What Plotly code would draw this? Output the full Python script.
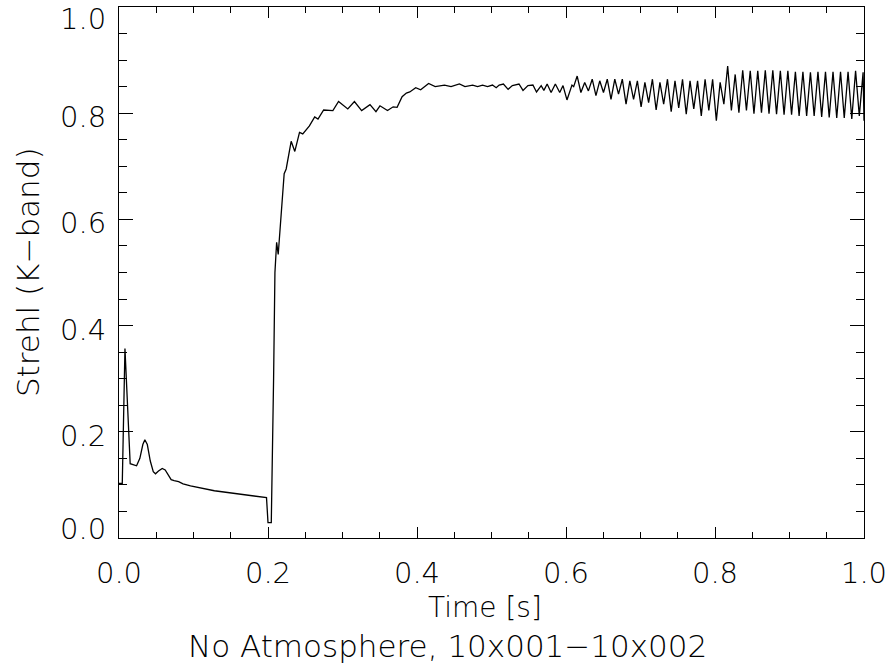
import plotly.graph_objects as go

# ---- data (time in s, Strehl ratio) ----
t_transient = [0.0000, 0.0044, 0.0080, 0.0150, 0.0236, 0.0280, 0.0320, 0.0347, 0.0380,
               0.0420, 0.0460, 0.0490, 0.0530, 0.0580, 0.0620, 0.0660, 0.0700, 0.0740,
               0.0800, 0.0860, 0.0960, 0.1280, 0.1640, 0.1980, 0.2000, 0.2044]
s_transient = [0.103, 0.103, 0.357, 0.140, 0.136, 0.150, 0.176, 0.185, 0.176,
               0.145, 0.125, 0.121, 0.126, 0.131, 0.128, 0.118, 0.110, 0.108,
               0.106, 0.102, 0.098, 0.089, 0.082, 0.076, 0.029, 0.029]

t_rise = [0.2075, 0.2093, 0.2116, 0.2137, 0.2217, 0.2244, 0.2311, 0.2360, 0.2423,
          0.2467, 0.2556, 0.2627, 0.2671, 0.2747, 0.2871, 0.2947, 0.3071, 0.3160,
          0.3257, 0.3369, 0.3449, 0.3503, 0.3604, 0.3680, 0.3733, 0.3800, 0.3857,
          0.3903, 0.3983, 0.4049, 0.4156, 0.4244, 0.4369, 0.4457]
s_rise = [0.300, 0.500, 0.557, 0.534, 0.686, 0.695, 0.747, 0.728, 0.764,
          0.761, 0.776, 0.793, 0.789, 0.806, 0.805, 0.822, 0.808, 0.822,
          0.805, 0.816, 0.803, 0.814, 0.805, 0.812, 0.811, 0.831, 0.838,
          0.840, 0.848, 0.844, 0.856, 0.850, 0.853, 0.850]

t_plateau = [0.4569, 0.4644, 0.4747, 0.4813, 0.4880, 0.4947, 0.5013, 0.5063, 0.5103,
             0.5160, 0.5223, 0.5280, 0.5369, 0.5423, 0.5489, 0.5556, 0.5604, 0.5667,
             0.5703, 0.5747, 0.5800, 0.5857, 0.5916, 0.5960, 0.6013, 0.6080, 0.6103]
s_plateau = [0.855, 0.850, 0.853, 0.850, 0.853, 0.850, 0.853, 0.848, 0.853,
             0.855, 0.845, 0.852, 0.855, 0.843, 0.852, 0.853, 0.840, 0.852,
             0.843, 0.855, 0.839, 0.855, 0.839, 0.852, 0.825, 0.853, 0.850]

t_oscill = [0.6150, 0.6200, 0.6251, 0.6301, 0.6352, 0.6402, 0.6453, 0.6503, 0.6554, 0.6604,
            0.6655, 0.6705, 0.6756, 0.6806, 0.6857, 0.6907, 0.6958, 0.7008, 0.7059, 0.7109,
            0.7160, 0.7210, 0.7261, 0.7311, 0.7362, 0.7412, 0.7463, 0.7513, 0.7564, 0.7614,
            0.7665, 0.7715, 0.7766, 0.7816, 0.7867, 0.7917, 0.7968, 0.8018, 0.8069, 0.8119,
            0.8170, 0.8220, 0.8271, 0.8321, 0.8372, 0.8422, 0.8473, 0.8523, 0.8574, 0.8624,
            0.8675, 0.8725, 0.8776, 0.8826, 0.8877, 0.8927, 0.8978, 0.9028, 0.9079, 0.9129,
            0.9180, 0.9230, 0.9281, 0.9331, 0.9382, 0.9432, 0.9483, 0.9533, 0.9584, 0.9634,
            0.9685, 0.9735, 0.9786, 0.9836, 0.9887, 0.9937, 0.9988, 1.0000]
s_oscill = [0.870, 0.839, 0.858, 0.842, 0.864, 0.833, 0.861, 0.839, 0.864, 0.826,
            0.864, 0.836, 0.864, 0.817, 0.861, 0.826, 0.861, 0.812, 0.858, 0.820,
            0.864, 0.806, 0.858, 0.817, 0.864, 0.803, 0.861, 0.810, 0.864, 0.798,
            0.861, 0.808, 0.861, 0.795, 0.864, 0.805, 0.864, 0.786, 0.858, 0.817,
            0.889, 0.805, 0.873, 0.801, 0.881, 0.805, 0.880, 0.799, 0.880, 0.801,
            0.881, 0.799, 0.881, 0.798, 0.880, 0.797, 0.880, 0.797, 0.878, 0.795,
            0.878, 0.795, 0.877, 0.795, 0.878, 0.793, 0.878, 0.792, 0.878, 0.791,
            0.878, 0.791, 0.878, 0.789, 0.880, 0.795, 0.877, 0.786]

x_ticks = [0.0, 0.2, 0.4, 0.6, 0.8, 1.0]
x_ticklabels = ["0.0", "0.2", "0.4", "0.6", "0.8", "1.0"]
y_ticks = [0.0, 0.2, 0.4, 0.6, 0.8, 1.0]
y_ticklabels = ["0.0", "0.2", "0.4", "0.6", "0.8", "1.0"]

x_title = "Time [s]"
y_title = "Strehl (K\u2212band)"
subtitle = "No Atmosphere, 10x001\u221210x002"

time_s = t_transient + t_rise + t_plateau + t_oscill
strehl = s_transient + s_rise + s_plateau + s_oscill

TICKFONT = dict(family="DejaVu Sans", size=29, color="black", weight=200)
XTITLEFONT = dict(family="DejaVu Sans", size=28, color="black", weight=200)
YTITLEFONT = dict(family="DejaVu Sans", size=31, color="black", weight=200)
SUBFONT = dict(family="DejaVu Sans", size=31, color="black", weight=200)

fig = go.Figure()
fig.add_trace(go.Scatter(x=time_s, y=strehl, mode="lines",
                         line=dict(color="black", width=1.3), hoverinfo="skip"))

axis_common = dict(
    showgrid=False, zeroline=False, showline=True, linecolor="black", linewidth=1,
    mirror="allticks", ticks="inside", tickcolor="black", tickwidth=1,
    tickfont=TICKFONT, ticklabeloverflow="allow",
)

fig.update_xaxes(range=[0, 1], tickvals=x_ticks, ticktext=x_ticklabels, ticklen=11,
                 minor=dict(dtick=0.05, ticks="inside", ticklen=6, tickcolor="black", tickwidth=1),
                 ticklabelstandoff=9, **axis_common)
fig.update_yaxes(range=[0, 1], tickvals=y_ticks, ticklen=14, showticklabels=False,
                 minor=dict(dtick=0.05, ticks="inside", ticklen=8, tickcolor="black", tickwidth=1),
                 **axis_common)

# y tick labels (IDL style: end labels nudged inside the axis span)
y_label_shift = {0.0: 9, 1.0: -12}
for v, lab in zip(y_ticks, y_ticklabels):
    fig.add_annotation(text=lab, xref="paper", yref="y", x=-0.0147, y=v,
                       xanchor="right", yanchor="middle", yshift=y_label_shift.get(v, -4),
                       showarrow=False, font=TICKFONT)

fig.add_annotation(text=x_title, xref="paper", yref="paper", x=0.491, y=-0.1316,
                   xanchor="center", yanchor="middle", showarrow=False, font=XTITLEFONT)
fig.add_annotation(text=subtitle, xref="paper", yref="paper", x=0.4407, y=-0.2035,
                   xanchor="center", yanchor="middle", showarrow=False, font=SUBFONT)
fig.add_annotation(text=y_title, xref="paper", yref="paper", x=-0.1227, y=0.5,
                   xanchor="center", yanchor="middle", textangle=-90, showarrow=False,
                   font=YTITLEFONT)

fig.update_layout(
    width=893, height=666,
    margin=dict(l=119, r=24, t=6, b=128),
    paper_bgcolor="white", plot_bgcolor="white",
    showlegend=False,
)

fig.write_html("out.html")
